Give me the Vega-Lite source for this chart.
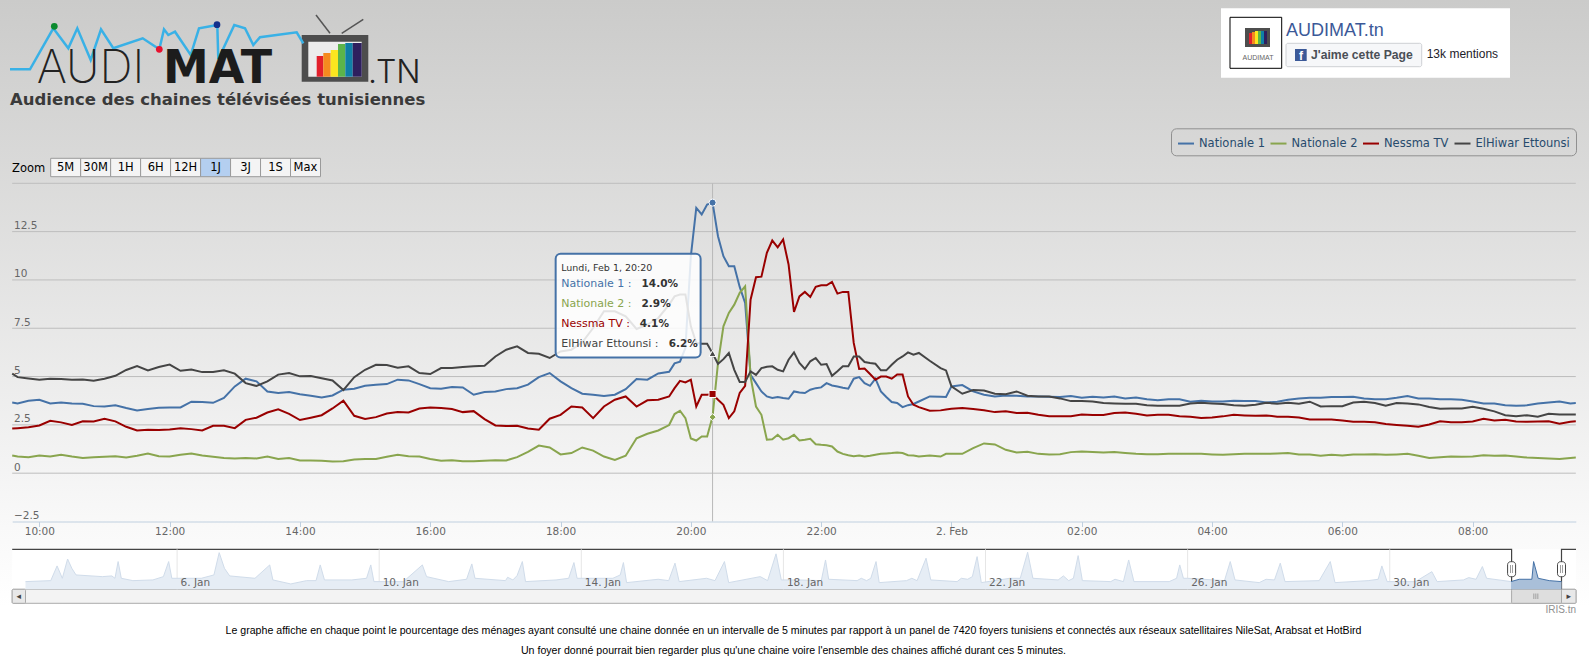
{"width":1589,"height":660,"autosize":{"type":"none"},"padding":0,"background":"white","config":{"view":{"stroke":null}},
"datasets":{"audience":[
{"t":"2016-02-01T09:35","n1":3.66,"n2":0.92,"ns":2.31,"eh":5.15},{"t":"2016-02-01T09:40","n1":3.61,"n2":0.86,"ns":2.33,"eh":4.97},{"t":"2016-02-01T09:50","n1":3.75,"n2":0.83,"ns":2.38,"eh":4.9},{"t":"2016-02-01T10:00","n1":3.8,"n2":0.92,"ns":2.47,"eh":4.84},{"t":"2016-02-01T10:10","n1":3.61,"n2":0.86,"ns":2.71,"eh":4.89},{"t":"2016-02-01T10:20","n1":3.66,"n2":0.95,"ns":2.63,"eh":4.87},{"t":"2016-02-01T10:30","n1":3.61,"n2":0.86,"ns":2.5,"eh":4.84},{"t":"2016-02-01T10:40","n1":3.59,"n2":0.79,"ns":2.69,"eh":4.85},{"t":"2016-02-01T10:50","n1":3.47,"n2":0.83,"ns":2.68,"eh":4.78},{"t":"2016-02-01T11:00","n1":3.45,"n2":0.85,"ns":2.82,"eh":4.89},{"t":"2016-02-01T11:10","n1":3.51,"n2":0.88,"ns":2.68,"eh":5.04},{"t":"2016-02-01T11:20","n1":3.37,"n2":0.81,"ns":2.4,"eh":5.34},{"t":"2016-02-01T11:30","n1":3.25,"n2":0.9,"ns":2.21,"eh":5.54},{"t":"2016-02-01T11:40","n1":3.32,"n2":1.02,"ns":2.25,"eh":5.32},{"t":"2016-02-01T11:50","n1":3.39,"n2":0.88,"ns":2.23,"eh":5.49},{"t":"2016-02-01T12:00","n1":3.4,"n2":0.86,"ns":2.26,"eh":5.62},{"t":"2016-02-01T12:10","n1":3.4,"n2":0.95,"ns":2.33,"eh":5.3},{"t":"2016-02-01T12:20","n1":3.7,"n2":1.02,"ns":2.28,"eh":5.37},{"t":"2016-02-01T12:30","n1":3.68,"n2":0.92,"ns":2.21,"eh":5.23},{"t":"2016-02-01T12:40","n1":3.64,"n2":0.85,"ns":2.45,"eh":5.23},{"t":"2016-02-01T12:50","n1":3.89,"n2":0.79,"ns":2.45,"eh":5.32},{"t":"2016-02-01T13:00","n1":4.49,"n2":0.76,"ns":2.33,"eh":5.15},{"t":"2016-02-01T13:10","n1":4.89,"n2":0.79,"ns":2.76,"eh":4.66},{"t":"2016-02-01T13:20","n1":4.75,"n2":0.76,"ns":2.87,"eh":4.51},{"t":"2016-02-01T13:30","n1":4.23,"n2":0.86,"ns":3.14,"eh":4.75},{"t":"2016-02-01T13:40","n1":4.15,"n2":0.74,"ns":3.3,"eh":5.1},{"t":"2016-02-01T13:50","n1":4.2,"n2":0.78,"ns":3.07,"eh":5.18},{"t":"2016-02-01T14:00","n1":4.09,"n2":0.66,"ns":2.75,"eh":5.01},{"t":"2016-02-01T14:10","n1":4.01,"n2":0.66,"ns":2.87,"eh":5.03},{"t":"2016-02-01T14:20","n1":3.92,"n2":0.64,"ns":3.0,"eh":4.91},{"t":"2016-02-01T14:30","n1":4.02,"n2":0.6,"ns":3.35,"eh":4.8},{"t":"2016-02-01T14:40","n1":4.32,"n2":0.62,"ns":3.75,"eh":4.3},{"t":"2016-02-01T14:50","n1":4.37,"n2":0.71,"ns":2.97,"eh":4.97},{"t":"2016-02-01T15:00","n1":4.52,"n2":0.73,"ns":2.8,"eh":5.35},{"t":"2016-02-01T15:10","n1":4.58,"n2":0.74,"ns":2.9,"eh":5.61},{"t":"2016-02-01T15:20","n1":4.61,"n2":0.85,"ns":3.09,"eh":5.6},{"t":"2016-02-01T15:30","n1":4.84,"n2":0.95,"ns":3.16,"eh":5.46},{"t":"2016-02-01T15:40","n1":4.8,"n2":0.88,"ns":3.14,"eh":5.53},{"t":"2016-02-01T15:50","n1":4.61,"n2":0.86,"ns":3.35,"eh":5.18},{"t":"2016-02-01T16:00","n1":4.4,"n2":0.73,"ns":3.4,"eh":5.13},{"t":"2016-02-01T16:10","n1":4.37,"n2":0.64,"ns":3.37,"eh":5.44},{"t":"2016-02-01T16:20","n1":4.46,"n2":0.67,"ns":3.32,"eh":5.44},{"t":"2016-02-01T16:30","n1":4.44,"n2":0.62,"ns":3.16,"eh":5.49},{"t":"2016-02-01T16:40","n1":4.06,"n2":0.62,"ns":3.21,"eh":5.53},{"t":"2016-02-01T16:50","n1":4.2,"n2":0.64,"ns":2.8,"eh":5.56},{"t":"2016-02-01T17:00","n1":4.23,"n2":0.67,"ns":2.47,"eh":6.04},{"t":"2016-02-01T17:10","n1":4.35,"n2":0.66,"ns":2.44,"eh":6.39},{"t":"2016-02-01T17:20","n1":4.4,"n2":0.83,"ns":2.45,"eh":6.56},{"t":"2016-02-01T17:30","n1":4.58,"n2":1.1,"ns":2.31,"eh":6.22},
{"t":"2016-02-01T17:40","n1":4.97,"n2":1.43,"ns":2.25,"eh":6.18},{"t":"2016-02-01T17:50","n1":5.18,"n2":1.33,"ns":2.82,"eh":5.96},{"t":"2016-02-01T18:00","n1":4.75,"n2":0.97,"ns":3.02,"eh":6.3},{"t":"2016-02-01T18:10","n1":4.4,"n2":1.04,"ns":3.45,"eh":6.39},{"t":"2016-02-01T18:20","n1":4.11,"n2":1.33,"ns":3.4,"eh":6.77},{"t":"2016-02-01T18:30","n1":4.06,"n2":1.17,"ns":2.85,"eh":7.51},{"t":"2016-02-01T18:40","n1":3.99,"n2":0.86,"ns":3.45,"eh":8.38},{"t":"2016-02-01T18:50","n1":4.06,"n2":0.69,"ns":3.8,"eh":8.38},{"t":"2016-02-01T19:00","n1":4.35,"n2":0.9,"ns":3.97,"eh":8.12},{"t":"2016-02-01T19:10","n1":4.87,"n2":1.81,"ns":3.45,"eh":7.46},{"t":"2016-02-01T19:20","n1":4.84,"n2":2.04,"ns":3.77,"eh":7.69},{"t":"2016-02-01T19:30","n1":5.16,"n2":2.21,"ns":3.8,"eh":8.03},{"t":"2016-02-01T19:40","n1":5.25,"n2":2.49,"ns":3.97,"eh":8.72},{"t":"2016-02-01T19:45","n1":5.68,"n2":3.06,"ns":4.4,"eh":9.15},{"t":"2016-02-01T19:50","n1":5.77,"n2":3.23,"ns":4.78,"eh":9.24},{"t":"2016-02-01T19:55","n1":6.48,"n2":2.85,"ns":4.7,"eh":9.24},
{"t":"2016-02-01T20:00","n1":11.23,"n2":1.8,"ns":4.84,"eh":7.6},{"t":"2016-02-01T20:05","n1":13.73,"n2":1.69,"ns":3.45,"eh":6.74},{"t":"2016-02-01T20:10","n1":13.39,"n2":1.9,"ns":4.06,"eh":6.7},{"t":"2016-02-01T20:15","n1":13.9,"n2":1.9,"ns":4.06,"eh":6.7},{"t":"2016-02-01T20:20","n1":14.0,"n2":2.93,"ns":4.1,"eh":6.2},{"t":"2016-02-01T20:25","n1":12.26,"n2":5.7,"ns":3.8,"eh":5.65},{"t":"2016-02-01T20:30","n1":11.23,"n2":7.6,"ns":3.54,"eh":5.9},{"t":"2016-02-01T20:35","n1":10.71,"n2":8.29,"ns":2.85,"eh":6.22},{"t":"2016-02-01T20:40","n1":10.71,"n2":8.72,"ns":3.2,"eh":5.35},{"t":"2016-02-01T20:45","n1":9.64,"n2":9.33,"ns":4.15,"eh":4.72},{"t":"2016-02-01T20:50","n1":8.81,"n2":9.67,"ns":4.52,"eh":4.72},{"t":"2016-02-01T20:55","n1":5.09,"n2":5.0,"ns":8.98,"eh":5.27},{"t":"2016-02-01T21:00","n1":4.66,"n2":3.45,"ns":10.14,"eh":5.09},{"t":"2016-02-01T21:05","n1":4.23,"n2":3.02,"ns":10.17,"eh":5.44},{"t":"2016-02-01T21:10","n1":3.97,"n2":1.73,"ns":11.4,"eh":5.51},{"t":"2016-02-01T21:15","n1":3.89,"n2":1.76,"ns":12.04,"eh":5.53},{"t":"2016-02-01T21:20","n1":3.94,"n2":1.99,"ns":11.69,"eh":5.35},{"t":"2016-02-01T21:25","n1":3.89,"n2":1.73,"ns":12.09,"eh":5.27},{"t":"2016-02-01T21:30","n1":3.85,"n2":1.81,"ns":10.8,"eh":5.87},{"t":"2016-02-01T21:35","n1":4.23,"n2":1.99,"ns":8.34,"eh":6.25},{"t":"2016-02-01T21:40","n1":4.18,"n2":1.69,"ns":9.15,"eh":5.7},{"t":"2016-02-01T21:45","n1":4.15,"n2":1.73,"ns":9.38,"eh":5.39},{"t":"2016-02-01T21:50","n1":4.32,"n2":1.78,"ns":9.12,"eh":5.79},{"t":"2016-02-01T21:55","n1":4.4,"n2":1.5,"ns":9.64,"eh":5.96},{"t":"2016-02-01T22:00","n1":4.44,"n2":1.47,"ns":9.72,"eh":5.61},{"t":"2016-02-01T22:05","n1":4.66,"n2":1.45,"ns":9.72,"eh":5.65},{"t":"2016-02-01T22:10","n1":4.54,"n2":1.38,"ns":9.9,"eh":5.04},{"t":"2016-02-01T22:15","n1":4.49,"n2":1.12,"ns":9.29,"eh":5.27},{"t":"2016-02-01T22:20","n1":4.42,"n2":1.0,"ns":9.38,"eh":5.53},{"t":"2016-02-01T22:25","n1":4.37,"n2":0.93,"ns":9.38,"eh":5.53},{"t":"2016-02-01T22:30","n1":4.89,"n2":0.88,"ns":6.74,"eh":6.04},{"t":"2016-02-01T22:35","n1":4.97,"n2":0.92,"ns":5.39,"eh":6.04},{"t":"2016-02-01T22:40","n1":4.66,"n2":0.86,"ns":5.42,"eh":5.75},{"t":"2016-02-01T22:45","n1":4.52,"n2":0.9,"ns":5.13,"eh":5.7},{"t":"2016-02-01T22:50","n1":4.89,"n2":0.95,"ns":4.84,"eh":5.66},{"t":"2016-02-01T22:55","n1":4.23,"n2":1.0,"ns":5.0,"eh":5.32},{"t":"2016-02-01T23:00","n1":3.94,"n2":1.02,"ns":5.0,"eh":5.32},{"t":"2016-02-01T23:05","n1":3.68,"n2":1.04,"ns":4.89,"eh":5.61},{"t":"2016-02-01T23:10","n1":3.63,"n2":1.07,"ns":5.11,"eh":5.87},{"t":"2016-02-01T23:15","n1":3.42,"n2":1.04,"ns":5.11,"eh":6.04},{"t":"2016-02-01T23:20","n1":3.52,"n2":0.93,"ns":3.97,"eh":6.25},{"t":"2016-02-01T23:25","n1":3.58,"n2":0.92,"ns":3.54,"eh":6.13},{"t":"2016-02-01T23:30","n1":3.71,"n2":0.86,"ns":3.42,"eh":6.22},{"t":"2016-02-01T23:40","n1":3.97,"n2":0.92,"ns":3.23,"eh":5.82},
{"t":"2016-02-01T23:50","n1":3.96,"n2":0.86,"ns":3.25,"eh":5.44},{"t":"2016-02-01T23:55","n1":3.94,"n2":1.0,"ns":3.3,"eh":5.32},{"t":"2016-02-02T00:00","n1":4.49,"n2":1.0,"ns":3.33,"eh":4.49},{"t":"2016-02-02T00:10","n1":4.56,"n2":1.0,"ns":3.37,"eh":4.11},{"t":"2016-02-02T00:20","n1":4.23,"n2":1.3,"ns":3.32,"eh":4.3},{"t":"2016-02-02T00:30","n1":4.06,"n2":1.54,"ns":3.26,"eh":4.28},{"t":"2016-02-02T00:40","n1":3.97,"n2":1.49,"ns":3.16,"eh":4.11},{"t":"2016-02-02T00:50","n1":4.02,"n2":1.21,"ns":3.2,"eh":4.08},{"t":"2016-02-02T01:00","n1":4.01,"n2":1.07,"ns":3.11,"eh":4.23},{"t":"2016-02-02T01:10","n1":3.97,"n2":1.11,"ns":3.13,"eh":4.01},{"t":"2016-02-02T01:20","n1":3.97,"n2":1.0,"ns":3.02,"eh":3.97},{"t":"2016-02-02T01:30","n1":3.96,"n2":0.97,"ns":2.95,"eh":3.97},{"t":"2016-02-02T01:40","n1":3.94,"n2":0.98,"ns":2.94,"eh":3.87},{"t":"2016-02-02T01:50","n1":3.99,"n2":1.09,"ns":2.95,"eh":3.73},{"t":"2016-02-02T02:00","n1":3.9,"n2":1.12,"ns":3.04,"eh":3.73},{"t":"2016-02-02T02:10","n1":3.96,"n2":1.09,"ns":3.01,"eh":3.71},{"t":"2016-02-02T02:20","n1":3.92,"n2":1.07,"ns":3.01,"eh":3.63},{"t":"2016-02-02T02:30","n1":3.97,"n2":1.09,"ns":3.11,"eh":3.61},{"t":"2016-02-02T02:40","n1":3.87,"n2":1.04,"ns":3.14,"eh":3.59},{"t":"2016-02-02T02:50","n1":3.92,"n2":1.0,"ns":3.07,"eh":3.59},{"t":"2016-02-02T03:00","n1":3.83,"n2":0.98,"ns":2.99,"eh":3.52},{"t":"2016-02-02T03:10","n1":3.78,"n2":0.98,"ns":3.02,"eh":3.49},{"t":"2016-02-02T03:20","n1":3.83,"n2":1.0,"ns":3.02,"eh":3.49},{"t":"2016-02-02T03:30","n1":3.82,"n2":1.0,"ns":2.95,"eh":3.49},{"t":"2016-02-02T03:40","n1":3.7,"n2":1.0,"ns":2.92,"eh":3.61},{"t":"2016-02-02T03:50","n1":3.75,"n2":1.0,"ns":2.85,"eh":3.64},{"t":"2016-02-02T04:00","n1":3.71,"n2":0.97,"ns":2.88,"eh":3.61},{"t":"2016-02-02T04:10","n1":3.71,"n2":0.95,"ns":2.94,"eh":3.58},{"t":"2016-02-02T04:20","n1":3.75,"n2":0.98,"ns":3.02,"eh":3.51},{"t":"2016-02-02T04:30","n1":3.73,"n2":1.0,"ns":2.99,"eh":3.49},{"t":"2016-02-02T04:40","n1":3.73,"n2":1.0,"ns":2.97,"eh":3.54},{"t":"2016-02-02T04:50","n1":3.66,"n2":1.0,"ns":2.99,"eh":3.64},{"t":"2016-02-02T05:00","n1":3.7,"n2":1.02,"ns":2.92,"eh":3.59},{"t":"2016-02-02T05:10","n1":3.8,"n2":1.04,"ns":2.92,"eh":3.64},{"t":"2016-02-02T05:20","n1":3.87,"n2":0.97,"ns":2.88,"eh":3.59},{"t":"2016-02-02T05:30","n1":3.9,"n2":0.97,"ns":2.78,"eh":3.7},{"t":"2016-02-02T05:40","n1":3.9,"n2":0.9,"ns":2.78,"eh":3.45},{"t":"2016-02-02T05:50","n1":3.94,"n2":0.95,"ns":2.78,"eh":3.47},{"t":"2016-02-02T06:00","n1":3.94,"n2":0.92,"ns":2.73,"eh":3.47},{"t":"2016-02-02T06:10","n1":3.96,"n2":0.97,"ns":2.66,"eh":3.66},{"t":"2016-02-02T06:20","n1":3.87,"n2":0.97,"ns":2.66,"eh":3.7},{"t":"2016-02-02T06:30","n1":3.83,"n2":0.98,"ns":2.63,"eh":3.63},{"t":"2016-02-02T06:40","n1":3.83,"n2":0.95,"ns":2.54,"eh":3.49},{"t":"2016-02-02T06:50","n1":3.9,"n2":0.97,"ns":2.49,"eh":3.63},{"t":"2016-02-02T07:00","n1":3.99,"n2":1.0,"ns":2.45,"eh":3.61},{"t":"2016-02-02T07:10","n1":3.87,"n2":0.9,"ns":2.4,"eh":3.56},{"t":"2016-02-02T07:20","n1":3.87,"n2":0.79,"ns":2.52,"eh":3.42},{"t":"2016-02-02T07:30","n1":3.83,"n2":0.83,"ns":2.69,"eh":3.33},{"t":"2016-02-02T07:40","n1":3.83,"n2":0.86,"ns":2.63,"eh":3.35},{"t":"2016-02-02T07:50","n1":3.8,"n2":0.85,"ns":2.63,"eh":3.35},{"t":"2016-02-02T08:00","n1":3.71,"n2":0.86,"ns":2.68,"eh":3.44},{"t":"2016-02-02T08:10","n1":3.61,"n2":0.93,"ns":2.82,"eh":3.33},{"t":"2016-02-02T08:20","n1":3.61,"n2":0.9,"ns":2.73,"eh":3.2},{"t":"2016-02-02T08:30","n1":3.52,"n2":0.92,"ns":2.76,"eh":3.0},{"t":"2016-02-02T08:40","n1":3.49,"n2":0.86,"ns":2.68,"eh":2.94},{"t":"2016-02-02T08:50","n1":3.51,"n2":0.81,"ns":2.66,"eh":3.0},{"t":"2016-02-02T09:00","n1":3.61,"n2":0.78,"ns":2.68,"eh":2.92},{"t":"2016-02-02T09:10","n1":3.66,"n2":0.76,"ns":2.69,"eh":3.07},{"t":"2016-02-02T09:20","n1":3.71,"n2":0.74,"ns":2.56,"eh":3.04},{"t":"2016-02-02T09:30","n1":3.61,"n2":0.79,"ns":2.66,"eh":3.04},{"t":"2016-02-02T09:35","n1":3.63,"n2":0.81,"ns":2.69,"eh":3.04}],
"nav":[{"t":"2016-01-03T00:00","v":3.88},{"t":"2016-01-03T12:00","v":4.38},{"t":"2016-01-03T15:00","v":11.8},{"t":"2016-01-03T17:30","v":5.56},{"t":"2016-01-03T20:00","v":15.3},{"t":"2016-01-03T22:00","v":10.6},{"t":"2016-01-04T00:00","v":7.25},{"t":"2016-01-04T12:30","v":6.4},{"t":"2016-01-04T17:00","v":6.75},{"t":"2016-01-04T18:30","v":5.56},{"t":"2016-01-04T20:00","v":14},{"t":"2016-01-04T21:30","v":5.56},{"t":"2016-01-05T03:00","v":4.38},{"t":"2016-01-05T12:30","v":4.72},{"t":"2016-01-05T17:30","v":6.4},{"t":"2016-01-05T20:00","v":14},{"t":"2016-01-05T21:30","v":5.56},{"t":"2016-01-06T11:30","v":5.56},{"t":"2016-01-06T17:30","v":7.25},{"t":"2016-01-06T20:00","v":18.5},{"t":"2016-01-06T22:30","v":10.6},{"t":"2016-01-07T01:00","v":6.75},{"t":"2016-01-07T13:00","v":5.56},{"t":"2016-01-07T20:00","v":12.3},{"t":"2016-01-07T21:30","v":4.72},{"t":"2016-01-08T06:00","v":2.7},{"t":"2016-01-08T13:30","v":4.38},{"t":"2016-01-08T18:00","v":4.38},{"t":"2016-01-08T20:00","v":12.3},{"t":"2016-01-08T22:00","v":4.72},{"t":"2016-01-09T11:00","v":4.72},{"t":"2016-01-09T18:00","v":5.56},{"t":"2016-01-09T20:00","v":12.3},{"t":"2016-01-09T21:30","v":3.88},{"t":"2016-01-10T11:30","v":3.88},{"t":"2016-01-10T20:30","v":12.3},{"t":"2016-01-10T22:30","v":6.4},{"t":"2016-01-11T09:00","v":3.88},{"t":"2016-01-11T17:30","v":5.06},{"t":"2016-01-11T20:00","v":12.8},{"t":"2016-01-11T21:30","v":5.56},{"t":"2016-01-12T12:00","v":4.38},{"t":"2016-01-12T13:00","v":6.07},{"t":"2016-01-12T15:30","v":4.72},{"t":"2016-01-12T17:30","v":6.91},{"t":"2016-01-12T20:00","v":14},{"t":"2016-01-12T21:30","v":3.88},{"t":"2016-01-13T12:00","v":4.72},{"t":"2016-01-13T18:00","v":5.56},{"t":"2016-01-13T20:30","v":13.5},{"t":"2016-01-13T22:00","v":5.56},{"t":"2016-01-14T15:00","v":5.56},{"t":"2016-01-14T18:30","v":7.25},{"t":"2016-01-14T20:00","v":13.5},{"t":"2016-01-14T21:30","v":3.37},{"t":"2016-01-15T12:30","v":5.06},{"t":"2016-01-15T17:30","v":4.38},{"t":"2016-01-15T20:30","v":13.2},{"t":"2016-01-15T22:30","v":3.88},{"t":"2016-01-16T11:30","v":5.56},{"t":"2016-01-16T15:30","v":4.38},{"t":"2016-01-16T20:00","v":14},{"t":"2016-01-16T22:00","v":3.37},{"t":"2016-01-17T13:00","v":6.4},{"t":"2016-01-17T16:30","v":4.38},{"t":"2016-01-17T20:30","v":17.9},{"t":"2016-01-17T23:00","v":4.72},{"t":"2016-01-18T07:00","v":4.72},{"t":"2016-01-18T18:00","v":4.38},{"t":"2016-01-18T20:00","v":14.8},{"t":"2016-01-18T21:30","v":5.06},{"t":"2016-01-19T11:00","v":4.38},{"t":"2016-01-19T13:00","v":5.56},{"t":"2016-01-19T15:30","v":4.38},{"t":"2016-01-19T17:30","v":5.56},{"t":"2016-01-19T20:00","v":14},{"t":"2016-01-19T21:30","v":3.37},{"t":"2016-01-20T10:30","v":4.38},{"t":"2016-01-20T13:00","v":5.56},{"t":"2016-01-20T15:30","v":4.38},{"t":"2016-01-20T19:45","v":15.7},{"t":"2016-01-20T22:00","v":4.72},{"t":"2016-01-21T10:30","v":3.88},{"t":"2016-01-21T12:30","v":5.56},{"t":"2016-01-21T15:30","v":5.06},{"t":"2016-01-21T17:45","v":6.4},{"t":"2016-01-21T20:00","v":16.5},{"t":"2016-01-21T22:00","v":3.37},{"t":"2016-01-22T11:30","v":5.56},{"t":"2016-01-22T16:30","v":5.56},{"t":"2016-01-22T20:00","v":18.7},{"t":"2016-01-22T22:30","v":5.56},{"t":"2016-01-23T10:30","v":4.72},{"t":"2016-01-23T13:00","v":6.75},{"t":"2016-01-23T15:30","v":4.38},{"t":"2016-01-23T17:45","v":5.56},{"t":"2016-01-23T20:00","v":17},{"t":"2016-01-23T22:00","v":4.38},{"t":"2016-01-24T11:30","v":3.88},{"t":"2016-01-24T13:30","v":5.06},{"t":"2016-01-24T17:30","v":3.88},{"t":"2016-01-24T20:00","v":14.8},{"t":"2016-01-24T22:30","v":3.88},{"t":"2016-01-25T15:15","v":3.88},{"t":"2016-01-25T18:45","v":5.56},{"t":"2016-01-25T20:15","v":12.3},{"t":"2016-01-25T22:00","v":5.56},{"t":"2016-01-26T00:00","v":5.56},{"t":"2016-01-26T17:30","v":4.38},{"t":"2016-01-26T20:15","v":14},{"t":"2016-01-26T22:30","v":4.72},{"t":"2016-01-27T10:00","v":3.37},{"t":"2016-01-27T13:15","v":5.06},{"t":"2016-01-27T17:15","v":4.72},{"t":"2016-01-27T20:00","v":13.2},{"t":"2016-01-27T22:15","v":3.88},{"t":"2016-01-28T14:30","v":4.38},{"t":"2016-01-28T19:45","v":14},{"t":"2016-01-28T22:00","v":3.37},{"t":"2016-01-29T13:45","v":4.38},{"t":"2016-01-29T18:30","v":5.06},{"t":"2016-01-29T20:15","v":11.8},{"t":"2016-01-29T22:45","v":3.88},{"t":"2016-01-30T12:15","v":3.88},{"t":"2016-01-30T20:00","v":8.9},{"t":"2016-01-30T22:30","v":3.88},{"t":"2016-01-31T11:00","v":4.72},{"t":"2016-01-31T13:30","v":5.9},{"t":"2016-01-31T17:00","v":5.06},{"t":"2016-01-31T20:00","v":11.5},{"t":"2016-01-31T22:00","v":5.56},{"t":"2016-02-01T06:15","v":4.38},{"t":"2016-02-01T09:35","v":3.88}],
"navsel":[{"t":"2016-02-01T09:35","v":3.88},{"t":"2016-02-01T13:30","v":5.06},{"t":"2016-02-01T19:30","v":5.06},{"t":"2016-02-01T20:20","v":14},{"t":"2016-02-01T22:30","v":5.56},{"t":"2016-02-02T03:45","v":4.38},{"t":"2016-02-02T09:35","v":3.88}]},
"layer":[
{"data":{"values":[{"p":"page"}]},"mark":{"type":"rect","color":{"gradient":"linear","x1":0,"y1":0,"x2":0,"y2":1,"stops":[{"offset":0,"color":"#cbcbca"},{"offset":0.8,"color":"#f9f9f9"},{"offset":0.92,"color":"#ffffff"}]}},"encoding":{}},
{"encoding":{"x":{"field":"px","type":"quantitative","axis":null,"scale":{"domain":[0,1589],"range":[0,1589],"nice":false}},"y":{"field":"py","type":"quantitative","axis":null,"scale":{"domain":[0,660],"range":[0,660],"nice":false}},"color":{"field":"k","type":"nominal","legend":null,"scale":{"domain":["blanc","piste","bouton","curseur","fb","fbf","tv","ecran","rouge","orange","jaune","vert","bleu","violet","ciel","antenne","cadre","ptv","ptr","ptb"],"range":["#ffffff","#f3f3f3","#e8e8e8","#dedede","#f6f7f9","#3b5998","#4d4d4d","#ececec","#e2202c","#f58a1f","#fbe61f","#5cb44a","#0f7fa6","#2e1f5e","#39b1e6","#555555","#444444","#0b8a2e","#e8102e","#12308c"]}}},
"layer":[
{"data":{"values":[{"px":12.2,"px2":1576,"py":549.3,"py2":589.3,"k":"blanc"},{"px":1221,"px2":1510,"py":8.3,"py2":77.7,"k":"blanc"},{"px":301.7,"px2":368.3,"py":35,"py2":81.7,"k":"tv"},{"px":308.3,"px2":361.7,"py":41.7,"py2":76.7,"k":"ecran"},{"px":316.7,"px2":323.3,"py":56,"py2":76.7,"k":"rouge"},{"px":323.3,"px2":330.7,"py":53,"py2":76.7,"k":"orange"},{"px":330.7,"px2":338,"py":50,"py2":76.7,"k":"jaune"},{"px":338,"px2":345.3,"py":44,"py2":76.7,"k":"vert"},{"px":345.3,"px2":352.7,"py":43,"py2":76.7,"k":"bleu"},{"px":352.7,"px2":361.7,"py":43,"py2":76.7,"k":"violet"}]},"mark":{"type":"rect"},"encoding":{"x2":{"field":"px2"},"y2":{"field":"py2"}}},
{"data":{"values":[{"px":12.2,"px2":1576,"py":589.3,"py2":603.3,"k":"piste"},{"px":12.2,"px2":25.5,"py":589.3,"py2":603.3,"k":"bouton"},{"px":1561.5,"px2":1576,"py":589.3,"py2":603.3,"k":"bouton"},{"px":1511.6,"px2":1561.5,"py":589.3,"py2":603.3,"k":"curseur"}]},"mark":{"type":"rect","cornerRadius":1,"strokeWidth":1,"stroke":"#aaaaaa"},"encoding":{"x2":{"field":"px2"},"y2":{"field":"py2"}}},
{"data":{"values":[{"px":1230,"px2":1281.7,"py":17.3,"py2":68.3,"k":"blanc"}]},"mark":{"type":"rect","strokeWidth":1,"stroke":"#000000"},"encoding":{"x2":{"field":"px2"},"y2":{"field":"py2"}}},
{"data":{"values":[{"px":1286,"px2":1421.7,"py":43.3,"py2":66.7,"k":"fb"}]},"mark":{"type":"rect","cornerRadius":2,"strokeWidth":1,"stroke":"#ced0d4"},"encoding":{"x2":{"field":"px2"},"y2":{"field":"py2"}}},
{"data":{"values":[{"px":1295,"px2":1306.7,"py":49,"py2":61,"k":"fbf"},{"px":1245,"px2":1270,"py":28,"py2":47,"k":"tv"},{"px":1249,"px2":1252,"py":33,"py2":44,"k":"rouge"},{"px":1252,"px2":1255,"py":32,"py2":44,"k":"orange"},{"px":1255,"px2":1258,"py":31,"py2":44,"k":"jaune"},{"px":1258,"px2":1261,"py":31,"py2":44,"k":"vert"},{"px":1261,"px2":1264,"py":31,"py2":44,"k":"bleu"},{"px":1264,"px2":1267,"py":31,"py2":44,"k":"violet"}]},"mark":{"type":"rect"},"encoding":{"x2":{"field":"px2"},"y2":{"field":"py2"}}},
{"data":{"values":[{"px":10,"py":69.3,"k":"ciel"},{"px":30,"py":69.3,"k":"ciel"},{"px":53.3,"py":28.3,"k":"ciel"},{"px":68.3,"py":48.3,"k":"ciel"},{"px":77.3,"py":28.3,"k":"ciel"},{"px":90.7,"py":60,"k":"ciel"},{"px":101,"py":29.3,"k":"ciel"},{"px":113.3,"py":48.3,"k":"ciel"},{"px":142.7,"py":38.3,"k":"ciel"},{"px":159.3,"py":49.3,"k":"ciel"},{"px":164,"py":29.3,"k":"ciel"},{"px":168.3,"py":35,"k":"ciel"},{"px":175,"py":31.7,"k":"ciel"},{"px":190.7,"py":55,"k":"ciel"},{"px":199,"py":28.3,"k":"ciel"},{"px":217.3,"py":25,"k":"ciel"},{"px":218.3,"py":59.3,"k":"ciel"},{"px":234.3,"py":25,"k":"ciel"},{"px":245,"py":28.3,"k":"ciel"},{"px":253.3,"py":45,"k":"ciel"},{"px":260,"py":37.3,"k":"ciel"},{"px":296.7,"py":32.3,"k":"ciel"},{"px":303.3,"py":43.3,"k":"ciel"}]},"mark":{"type":"line","strokeWidth":2.5},"encoding":{}},
{"data":{"values":[{"px":316,"py":15,"k":"antenne","part":"a1"},{"px":330,"py":33.3,"k":"antenne","part":"a1"},{"px":341.7,"py":33.3,"k":"antenne","part":"a2"},{"px":363.3,"py":19.3,"k":"antenne","part":"a2"}]},"mark":{"type":"line","strokeWidth":1.5},"encoding":{"detail":{"field":"part"}}},
{"data":{"values":[{"px":12.2,"py":549.3,"k":"cadre","part":"m1"},{"px":1511.6,"py":549.3,"k":"cadre","part":"m1"},{"px":1511.6,"py":589.3,"k":"cadre","part":"m1"},{"px":1561.5,"py":589.3,"k":"cadre","part":"m2"},{"px":1561.5,"py":549.3,"k":"cadre","part":"m2"},{"px":1576,"py":549.3,"k":"cadre","part":"m2"}]},"mark":{"type":"line","strokeWidth":1.2},"encoding":{"detail":{"field":"part"}}},
{"data":{"values":[{"px":54.3,"py":26.3,"k":"ptv"},{"px":159.3,"py":49.3,"k":"ptr"},{"px":217,"py":24.7,"k":"ptb"}]},"mark":{"type":"circle","size":45,"opacity":1}},
{"data":{"values":[{"px":36.7,"py":83.3,"txt":"AUDI"}]},"mark":{"type":"text","font":"Inter","fontWeight":200,"fontSize":46,"align":"left","baseline":"alphabetic"},"encoding":{"text":{"field":"txt"},"color":{"value":"#222222"}}},
{"data":{"values":[{"px":163,"py":83.3,"txt":"MAT"}]},"mark":{"type":"text","font":"DejaVu Sans","fontWeight":"bold","fontSize":46,"align":"left","baseline":"alphabetic"},"encoding":{"text":{"field":"txt"},"color":{"value":"#1c1c1c"}}},
{"data":{"values":[{"px":368,"py":83.3,"txt":".TN"}]},"mark":{"type":"text","font":"Inter","fontWeight":300,"fontSize":32,"align":"left","baseline":"alphabetic"},"encoding":{"text":{"field":"txt"},"color":{"value":"#222222"}}},
{"data":{"values":[{"px":10,"py":99.5,"txt":"Audience des chaines télévisées tunisiennes"}]},"mark":{"type":"text","font":"DejaVu Sans","fontWeight":"bold","fontSize":16.5,"align":"left","baseline":"middle"},"encoding":{"text":{"field":"txt"},"color":{"value":"#3a3a3a"}}},
{"data":{"values":[{"px":1286,"py":30.7,"txt":"AUDIMAT.tn"}]},"mark":{"type":"text","font":"Liberation Sans","fontSize":18,"align":"left","baseline":"middle"},"encoding":{"text":{"field":"txt"},"color":{"value":"#3b5998"}}},
{"data":{"values":[{"px":1311,"py":55,"txt":"J'aime cette Page"}]},"mark":{"type":"text","font":"Liberation Sans","fontWeight":"bold","fontSize":12.2,"align":"left","baseline":"middle"},"encoding":{"text":{"field":"txt"},"color":{"value":"#4b4f56"}}},
{"data":{"values":[{"px":1301,"py":56,"txt":"f"}]},"mark":{"type":"text","font":"Liberation Sans","fontWeight":"bold","fontSize":12,"align":"center","baseline":"middle"},"encoding":{"text":{"field":"txt"},"color":{"value":"#ffffff"}}},
{"data":{"values":[{"px":1426.7,"py":54,"txt":"13k mentions"}]},"mark":{"type":"text","font":"Liberation Sans","fontSize":12,"align":"left","baseline":"middle"},"encoding":{"text":{"field":"txt"},"color":{"value":"#1d2129"}}},
{"data":{"values":[{"px":1258,"py":58,"txt":"AUDIMAT"}]},"mark":{"type":"text","font":"Liberation Sans","fontSize":7,"align":"center","baseline":"middle"},"encoding":{"text":{"field":"txt"},"color":{"value":"#666666"}}},
{"data":{"values":[{"px":793.5,"py":631,"txt":"Le graphe affiche en chaque point le pourcentage des ménages ayant consulté une chaine donnée en un intervalle de 5 minutes par rapport à un panel de 7420 foyers tunisiens et connectés aux réseaux satellitaires NileSat, Arabsat et HotBird"},{"px":793.5,"py":651,"txt":"Un foyer donné pourrait bien regarder plus qu'une chaine voire l'ensemble des chaines affiché durant ces 5 minutes."}]},"mark":{"type":"text","font":"Liberation Sans","fontSize":10.6,"align":"center","baseline":"middle"},"encoding":{"text":{"field":"txt"},"color":{"value":"#000000"}}},
{"data":{"values":[{"px":1576,"py":610,"txt":"IRIS.tn"}]},"mark":{"type":"text","font":"Liberation Sans","fontSize":10,"align":"right","baseline":"middle"},"encoding":{"text":{"field":"txt"},"color":{"value":"#909090"}}},
{"data":{"values":[{"px":18.8,"py":596.3,"txt":"◂"},{"px":1568.7,"py":596.3,"txt":"▸"}]},"mark":{"type":"text","font":"DejaVu Sans","fontSize":9,"align":"center","baseline":"middle"},"encoding":{"text":{"field":"txt"},"color":{"value":"#444444"}}}
]},
{"data":{"name":"audience"},"encoding":{"x":{"field":"t","type":"temporal","scale":{"domain":[{"year":2016,"month":2,"date":1,"hours":9,"minutes":35},{"year":2016,"month":2,"date":2,"hours":9,"minutes":35}],"range":[12.2,1575.8]},"axis":{"orient":"bottom","offset":-138.5,"title":null,"grid":false,"zindex":1,"values":[{"year":2016,"month":2,"date":1,"hours":10},{"year":2016,"month":2,"date":1,"hours":12},{"year":2016,"month":2,"date":1,"hours":14},{"year":2016,"month":2,"date":1,"hours":16},{"year":2016,"month":2,"date":1,"hours":18},{"year":2016,"month":2,"date":1,"hours":20},{"year":2016,"month":2,"date":1,"hours":22},{"year":2016,"month":2,"date":2,"hours":0},{"year":2016,"month":2,"date":2,"hours":2},{"year":2016,"month":2,"date":2,"hours":4},{"year":2016,"month":2,"date":2,"hours":6},{"year":2016,"month":2,"date":2,"hours":8}],"labelExpr":"hours(datum.value)===0?'2. Feb':timeFormat(datum.value,'%H:%M')","domainColor":"#C0D0E0","tickColor":"#C0D0E0","tickSize":5,"labelColor":"#666666","labelFont":"DejaVu Sans","labelFontSize":10.5,"labelPadding":0,"labelOverlap":false,"labelFlush":false,"labelBound":false}},"y":{"field":"v","type":"quantitative","scale":{"domain":[-2.5,15],"range":[521.5,183.3],"nice":false,"zero":false},"axis":{"orient":"left","offset":-13.5,"title":null,"grid":false,"zindex":1,"ticks":false,"domain":false,"values":[-2.5,0,2.5,5,7.5,10,12.5],"labelExpr":"datum.value<0?'−2.5':''+datum.value","labelAlign":"left","labelBaseline":"bottom","labelOffset":-1,"labelPadding":0,"labelColor":"#666666","labelFont":"DejaVu Sans","labelFontSize":10.5,"labelOverlap":false,"labelBound":false,"labelFlush":false}}},
"layer":[
{"data":{"values":[{"t":"2016-02-01T09:35","t2":"2016-02-02T09:35","v":15},{"t":"2016-02-01T09:35","t2":"2016-02-02T09:35","v":12.5},{"t":"2016-02-01T09:35","t2":"2016-02-02T09:35","v":10},{"t":"2016-02-01T09:35","t2":"2016-02-02T09:35","v":7.5},{"t":"2016-02-01T09:35","t2":"2016-02-02T09:35","v":5},{"t":"2016-02-01T09:35","t2":"2016-02-02T09:35","v":2.5},{"t":"2016-02-01T09:35","t2":"2016-02-02T09:35","v":0}]},"mark":{"type":"rule","color":"#bdbdbd","strokeWidth":1},"encoding":{"x2":{"field":"t2"}}},
{"data":{"values":[{"t":"2016-02-01T20:20","v":15,"v2":-2.5}]},"mark":{"type":"rule","color":"#b8b8b8","strokeWidth":1},"encoding":{"y2":{"field":"v2"}}},
{"transform":[{"fold":["n1","n2","ns","eh"],"as":["s","v"]}],"mark":{"type":"line","strokeWidth":2,"interpolate":"linear"},"encoding":{"color":{"field":"s","type":"nominal","scale":{"domain":["n1","n2","ns","eh"],"range":["#4572A7","#89A54E","#990000","#454545"]},"legend":{"orient":"none","legendX":1171,"legendY":128.3,"direction":"horizontal","title":null,"symbolType":"stroke","symbolSize":256,"symbolStrokeWidth":2,"labelExpr":"{'n1':'Nationale 1','n2':'Nationale 2','ns':'Nessma TV','eh':'ElHiwar Ettounsi'}[datum.label]","labelFont":"DejaVu Sans","labelFontSize":11.5,"labelColor":"#274b6d","strokeColor":"#909090","cornerRadius":5,"padding":6,"columnPadding":1.5,"labelOffset":4}}}},
{"data":{"values":[{"t":"2016-02-01T17:55:30","t2":"2016-02-01T20:09","v":11.36,"v2":5.99}]},"mark":{"type":"rect","fill":"#ffffff","fillOpacity":0.85,"stroke":"#4572A7","strokeWidth":2,"cornerRadius":5},"encoding":{"x2":{"field":"t2"},"y2":{"field":"v2"}}},
{"data":{"values":[{"t":"2016-02-01T18:00:36","v":10.62,"txt":"Lundi, Feb 1, 20:20"}]},"mark":{"type":"text","font":"DejaVu Sans","fontSize":9.5,"align":"left","baseline":"middle","color":"#333333"},"encoding":{"text":{"field":"txt"}}},
{"data":{"values":[{"t":"2016-02-01T18:00:36","v":9.81,"txt":"Nationale 1 :","s":"n1"},{"t":"2016-02-01T18:00:36","v":8.77,"txt":"Nationale 2 :","s":"n2"},{"t":"2016-02-01T18:00:36","v":7.74,"txt":"Nessma TV :","s":"ns"},{"t":"2016-02-01T18:00:36","v":6.7,"txt":"ElHiwar Ettounsi :","s":"eh"}]},"mark":{"type":"text","font":"DejaVu Sans","fontSize":11,"align":"left","baseline":"middle"},"encoding":{"text":{"field":"txt"},"color":{"field":"s","type":"nominal","legend":null}}},
{"data":{"values":[{"t":"2016-02-01T19:14:36","v":9.81,"txt":"14.0%"},{"t":"2016-02-01T19:14:36","v":8.77,"txt":"2.9%"},{"t":"2016-02-01T19:13:00","v":7.74,"txt":"4.1%"},{"t":"2016-02-01T19:39:40","v":6.7,"txt":"6.2%"}]},"mark":{"type":"text","font":"DejaVu Sans","fontWeight":"bold","fontSize":10.5,"align":"left","baseline":"middle","color":"#333333"},"encoding":{"text":{"field":"txt"}}},
{"data":{"values":[{"t":"2016-02-01T20:20","v":14.0,"s":"n1"}]},"mark":{"type":"point","shape":"circle","filled":true,"opacity":1,"size":50,"stroke":"#ffffff","strokeWidth":1},"encoding":{"color":{"field":"s","type":"nominal","legend":null}}},
{"data":{"values":[{"t":"2016-02-01T20:20","v":2.9,"s":"n2"}]},"mark":{"type":"point","shape":"diamond","filled":true,"opacity":1,"size":50,"stroke":"#ffffff","strokeWidth":1},"encoding":{"color":{"field":"s","type":"nominal","legend":null}}},
{"data":{"values":[{"t":"2016-02-01T20:20","v":4.1,"s":"ns"}]},"mark":{"type":"point","shape":"square","filled":true,"opacity":1,"size":50,"stroke":"#ffffff","strokeWidth":1},"encoding":{"color":{"field":"s","type":"nominal","legend":null}}},
{"data":{"values":[{"t":"2016-02-01T20:20","v":6.2,"s":"eh"}]},"mark":{"type":"point","shape":"triangle-up","filled":true,"opacity":1,"size":50,"stroke":"#ffffff","strokeWidth":1},"encoding":{"color":{"field":"s","type":"nominal","legend":null}}}
]},
{"encoding":{"x":{"field":"t","type":"temporal","scale":{"domain":[{"year":2016,"month":1,"date":3},{"year":2016,"month":2,"date":2,"hours":9,"minutes":35}],"range":[25.5,1561.5]},"axis":{"orient":"top","offset":-589.3,"title":null,"grid":false,"zindex":1,"ticks":false,"domain":false,"values":[{"year":2016,"month":1,"date":6},{"year":2016,"month":1,"date":10},{"year":2016,"month":1,"date":14},{"year":2016,"month":1,"date":18},{"year":2016,"month":1,"date":22},{"year":2016,"month":1,"date":26},{"year":2016,"month":1,"date":30}],"format":"%-d. %b","labelAlign":"left","labelOffset":3,"labelPadding":2,"labelColor":"#666666","labelFont":"DejaVu Sans","labelFontSize":10.5,"labelOverlap":false,"labelBound":false,"labelFlush":false}},"y":{"field":"v","type":"quantitative","axis":null,"scale":{"domain":[0,20.2],"range":[589.3,549.3],"nice":false}}},
"layer":[
{"data":{"values":[{"t":"2016-01-06T00:00","v":0,"v2":20.2},{"t":"2016-01-10T00:00","v":0,"v2":20.2},{"t":"2016-01-14T00:00","v":0,"v2":20.2},{"t":"2016-01-18T00:00","v":0,"v2":20.2},{"t":"2016-01-22T00:00","v":0,"v2":20.2},{"t":"2016-01-26T00:00","v":0,"v2":20.2},{"t":"2016-01-30T00:00","v":0,"v2":20.2}]},"mark":{"type":"rule","color":"#e6e6e6","strokeWidth":1},"encoding":{"y2":{"field":"v2"}}},
{"data":{"name":"nav"},"mark":{"type":"area","color":"#e6edf5"},"encoding":{}},
{"data":{"name":"nav"},"mark":{"type":"line","color":"#d0dcea","strokeWidth":1},"encoding":{}},
{"data":{"name":"navsel"},"mark":{"type":"area","color":"#a9bfd9"},"encoding":{}},
{"data":{"name":"navsel"},"mark":{"type":"line","color":"#4572A7","strokeWidth":1},"encoding":{}}
]},
{"encoding":{"x":{"field":"px","type":"quantitative","axis":null,"scale":{"domain":[0,1589],"range":[0,1589],"nice":false}},"x2":{"field":"px2"},"y":{"field":"py","type":"quantitative","axis":null,"scale":{"domain":[0,660],"range":[0,660],"nice":false}},"y2":{"field":"py2"}},
"layer":[
{"data":{"values":[{"px":1507.6,"px2":1515.6,"py":561.7,"py2":576.7},{"px":1557.5,"px2":1565.5,"py":561.7,"py2":576.7}]},"mark":{"type":"rect","fill":"#ffffff","stroke":"#444444","cornerRadius":3,"strokeWidth":1}},
{"data":{"values":[{"px":1510.3,"px2":1511,"py":565,"py2":573},{"px":1512.2,"px2":1512.9,"py":565,"py2":573},{"px":1560.2,"px2":1560.9,"py":565,"py2":573},{"px":1562.1,"px2":1562.8,"py":565,"py2":573},{"px":1533.6,"px2":1534.2,"py":593.5,"py2":599},{"px":1535.6,"px2":1536.2,"py":593.5,"py2":599},{"px":1537.6,"px2":1538.2,"py":593.5,"py2":599}]},"mark":{"type":"rect","fill":"#777777"}}
]},
{"data":{"values":[{"btn":"5M","rang":"zoom"},{"btn":"30M","rang":"zoom"},{"btn":"1H","rang":"zoom"},{"btn":"6H","rang":"zoom"},{"btn":"12H","rang":"zoom"},{"btn":"1J","rang":"zoom"},{"btn":"3J","rang":"zoom"},{"btn":"1S","rang":"zoom"},{"btn":"Max","rang":"zoom"},{"btn":"Zoom","rang":"zoom"}]},
"encoding":{"x":{"field":"btn","type":"nominal","axis":null,"scale":{"type":"band","domain":["Zoom","5M","30M","1H","6H","12H","1J","3J","1S","Max"],"range":[20.7,320.5],"paddingInner":0,"paddingOuter":0}},"y":{"field":"rang","type":"nominal","axis":null,"scale":{"type":"band","domain":["zoom"],"range":[158.3,176.7],"paddingInner":0,"paddingOuter":0}}},
"layer":[
{"transform":[{"filter":"datum.btn!=='Zoom'"}],"mark":{"type":"rect","stroke":"#9a9a9a","strokeWidth":1},"encoding":{"color":{"condition":{"test":"datum.btn==='1J'","value":"#b4cff0"},"value":"#f4f4f4"}}},
{"transform":[{"filter":"datum.btn!=='Zoom'"}],"mark":{"type":"text","font":"DejaVu Sans","fontSize":11.5,"color":"#000000"},"encoding":{"text":{"field":"btn"}}},
{"transform":[{"filter":"datum.btn==='Zoom'"}],"mark":{"type":"text","font":"DejaVu Sans","fontSize":11.5,"color":"#000000","dx":-7,"dy":1},"encoding":{"text":{"field":"btn"}}}
]}
],
"resolve":{"scale":{"x":"independent","y":"independent","color":"independent"}}}
